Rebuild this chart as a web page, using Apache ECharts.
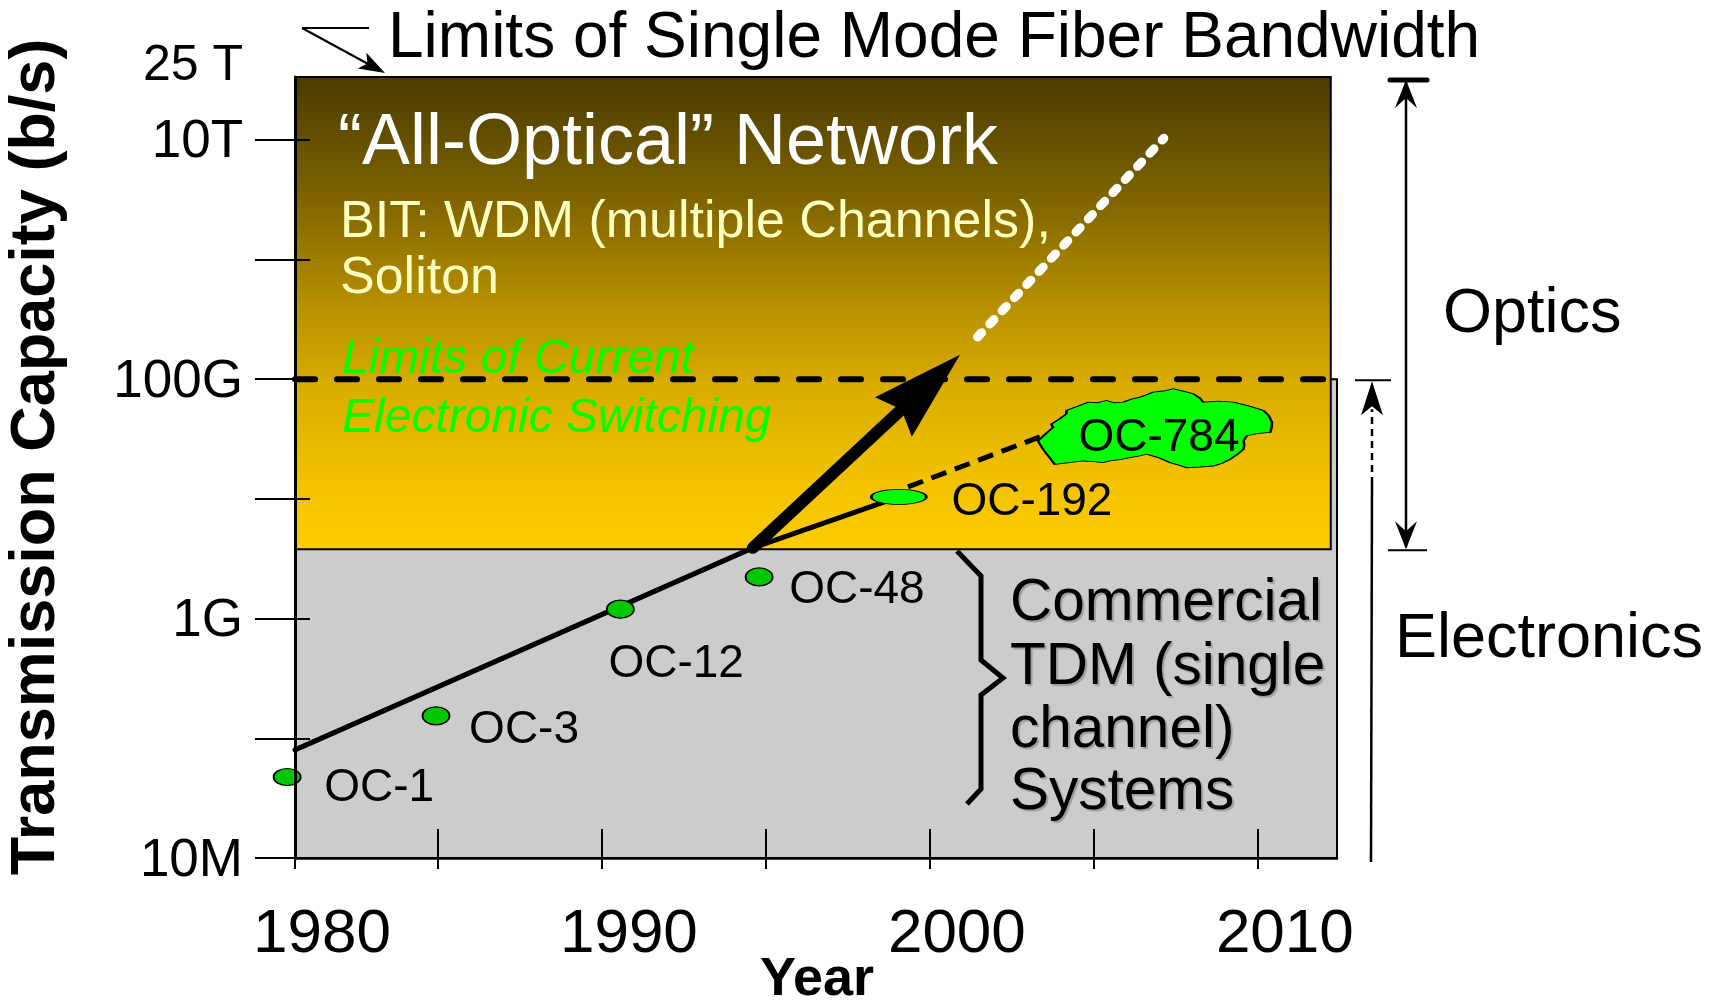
<!DOCTYPE html>
<html><head><meta charset="utf-8">
<script src="https://cdn.jsdelivr.net/npm/echarts@6/dist/echarts.min.js"></script>
<style>html,body{margin:0;padding:0;background:#fff;}#c{width:1720px;height:1001px;}</style>
</head><body><div id="c"></div>
<script>
// ---------------- data ----------------
const yearTickValues = [1985, 1990, 1995, 2000, 2005, 2010];
const yearLabelValues = [1980, 1990, 2000, 2010];
const capTickValues = [1e7, 1e8, 1e9, 1e10, 1e11, 1e12, 1e13];
const capLabelValues = [1e7, 1e9, 1e11, 1e13, 2.5e13];
const capLabelTexts = ['10M', '1G', '100G', '10T', '25 T'];
const ocNames = ['OC-1', 'OC-3', 'OC-12', 'OC-48', 'OC-192'];
const ocYears = [1980.4, 1984.94, 1990.56, 1994.79, 1999.05];
const ocRates = [4.75e7, 1.54e8, 1.2e9, 2.23e9, 1.04e10];
const oc784Name = 'OC-784';
const oc784Year = 2006.86;
const oc784Rate = 3.9e10;
const tdmTrendYears = [1980.64, 1994.6, 1999.05];
const tdmTrendRates = [8.0e7, 3.9e9, 1.04e10];
const oc784TrendYears = [1999.33, 2003.35];
const oc784TrendRates = [1.26e10, 3.3e10];
const wdmArrowYears = [1994.6, 1999.9];
const wdmArrowRates = [3.9e9, 8.8e10];
const allOpticalYears = [2001.45, 2007.13];
const allOpticalRates = [2.25e11, 1.03e13];
const electronicLimit = 1e11;
const opticsFloor = 3.8e9;
const capMin = 1e7, capMax = 3.35e13;
const yearMin = 1980.64, yearMax = 2012.41, opticsYearMax = 2012.22;

// ---------------- styles / layout ----------------
const FF = "'Liberation Sans', Arial, Helvetica, sans-serif";
const ocSizes = [[27, 17], [27, 18], [27, 18], [27, 18], [55, 15]];
const ocFills = ['#00c800', '#00c800', '#00c800', '#00c800', '#00ff00'];
const ocLabelOffsets = [[38, 12], [34, 15], [-11, 56], [31, 14], [54, 6]];
const labelShift = 0.82;
const ellipsePath = 'path://M0,-1 C0.5523,-1 1,-0.5523 1,0 C1,0.5523 0.5523,1 0,1 C-0.5523,1 -1,0.5523 -1,0 C-1,-0.5523 -0.5523,-1 0,-1 Z';
const cloudPath = 'path://M115,240 L135,222 L160,200 L155,190 L178,176 L200,160 L200,150 L232,138 L265,125 L292,127 L320,120 L345,127 L370,125 L395,116 L420,110 L440,103 L460,95 L490,92 L520,85 L552,93 L580,100 L598,112 L610,125 L655,122 L700,125 L745,136 L790,150 L806,166 L815,185 L814,200 L810,215 L775,218 L740,225 L735,232 L730,240 L732,252 L730,265 L712,280 L690,295 L668,306 L640,315 L600,318 L560,320 L535,312 L510,305 L475,290 L440,280 L415,286 L390,290 L360,296 L330,300 L310,305 L280,302 L250,300 L208,305 L165,310 L157,300 L150,290 L140,278 L130,265 L122,252 Z';
const arrowHeadPath = 'path://M0,0 L27,91 L0,80 L-27,91 Z';

const pairs = (xs, ys) => xs.map((x, i) => [x, ys[i]]);

const goldGradient = new echarts.graphic.LinearGradient(0, 0, 0, 1, [
  {offset: 0, color: '#4a3b00'},
  {offset: 0.25, color: '#7c6200'},
  {offset: 0.47, color: '#b48e00'},
  {offset: 0.65, color: '#d8ac00'},
  {offset: 0.85, color: '#f2c200'},
  {offset: 1, color: '#fdcc00'}
]);

function capLabel(v) {
  for (let i = 0; i < capLabelValues.length; i++) {
    if (Math.abs(Math.log10(v) - Math.log10(capLabelValues[i])) < 0.01) {
      return capLabelValues[i] === 2.5e13 ? '{t|' + capLabelTexts[i] + '}' : capLabelTexts[i];
    }
  }
  return '';
}

const chart = echarts.init(document.getElementById('c'), null, {renderer: 'canvas'});

const option = {
  animation: false,
  backgroundColor: '#ffffff',
  grid: {left: 295, right: 383, top: 77, bottom: 143, containLabel: false},
  xAxis: [
    {type: 'value', min: yearMin, max: yearMax, position: 'bottom', z: 10,
     axisLine: {show: true, onZero: false, lineStyle: {color: '#000', width: 2.5}},
     axisTick: {show: true, inside: true, length: 29, customValues: yearTickValues, lineStyle: {color: '#000', width: 2}},
     axisLabel: {show: false}, splitLine: {show: false}},
    {type: 'value', min: yearMin, max: yearMax, position: 'bottom', z: 10,
     axisLine: {show: false, onZero: false},
     axisTick: {show: true, inside: false, length: 11, customValues: [yearMin].concat(yearTickValues), lineStyle: {color: '#000', width: 2}},
     axisLabel: {show: false}, splitLine: {show: false}},
    {type: 'value', min: yearMin - labelShift, max: yearMax - labelShift, position: 'bottom', z: 10,
     axisLine: {show: false, onZero: false}, axisTick: {show: false}, splitLine: {show: false},
     axisLabel: {show: true, customValues: yearLabelValues, margin: 46, fontSize: 62, fontFamily: FF, color: '#000',
       formatter: v => (v === yearLabelValues[0] ? '{a|' + v + '}' : String(v)),
       rich: {a: {fontSize: 62, fontFamily: FF, color: '#000', padding: [0, 0, 0, 42]}}}}
  ],
  yAxis: [
    {type: 'log', logBase: 10, min: capMin, max: capMax, position: 'left', z: 10,
     axisLine: {show: true, onZero: false, lineStyle: {color: '#000', width: 3}},
     axisTick: {show: true, inside: false, length: 40, customValues: capTickValues, lineStyle: {color: '#000', width: 2}},
     minorTick: {show: false}, splitLine: {show: false},
     axisLabel: {show: true, customValues: capLabelValues, margin: 52, fontSize: 53, fontFamily: FF, color: '#000',
       padding: [6, 0, 0, 0],
       formatter: capLabel,
       rich: {t: {fontSize: 50, fontFamily: FF, color: '#000', padding: [0, 0, 58, 0]}}}},
    {type: 'log', logBase: 10, min: capMin, max: capMax, position: 'left', z: 10,
     axisLine: {show: false, onZero: false},
     axisTick: {show: true, inside: true, length: 15, customValues: capTickValues.slice(1), lineStyle: {color: '#000', width: 2}},
     minorTick: {show: false}, splitLine: {show: false}, axisLabel: {show: false}}
  ],
  series: [
    {name: 'electronics', type: 'line', data: [], z: 1, silent: true,
     markArea: {silent: true, z: 1, label: {show: false},
       itemStyle: {color: '#cccccc', borderColor: '#000', borderWidth: 2},
       data: [[{coord: [yearMin, capMin]}, {coord: [yearMax, electronicLimit]}]]}},
    {name: 'optics', type: 'line', data: [], z: 2, silent: true,
     markArea: {silent: true, z: 2, label: {show: false},
       itemStyle: {color: goldGradient, borderColor: '#000', borderWidth: 2},
       data: [[{coord: [yearMin, opticsFloor]}, {coord: [opticsYearMax, capMax]}]]}},
    {name: 'electronic limit', type: 'line', z: 3, silent: true, symbol: 'none',
     data: [[yearMin, electronicLimit], [opticsYearMax - 0.1, electronicLimit]],
     lineStyle: {color: '#000', width: 6, type: [20, 22], cap: 'round'}},
    {name: 'tdm trend', type: 'line', z: 4, silent: true, symbol: 'none',
     data: pairs(tdmTrendYears, tdmTrendRates),
     lineStyle: {color: '#000', width: 5, cap: 'round', join: 'round'}},
    {name: 'oc784 trend', type: 'line', z: 4, silent: true, symbol: 'none',
     data: pairs(oc784TrendYears, oc784TrendRates),
     lineStyle: {color: '#000', width: 5, type: [16, 9]}},
    {name: 'all optical', type: 'line', z: 4, silent: true, symbol: 'none',
     data: pairs(allOpticalYears, allOpticalRates),
     lineStyle: {color: '#ffffff', width: 9, type: [6, 12], cap: 'round'}},
    {name: 'wdm arrow', type: 'line', z: 5, silent: true, data: [],
     markLine: {silent: true, z: 5, symbol: ['none', arrowHeadPath], symbolSize: [54, 91],
       label: {show: false},
       lineStyle: {color: '#000', width: 12, type: 'solid', cap: 'round'},
       itemStyle: {color: '#000'},
       emphasis: {disabled: true},
       data: [[{coord: [wdmArrowYears[0], wdmArrowRates[0]]}, {coord: [wdmArrowYears[1], wdmArrowRates[1]]}]]}},
    {name: 'oc', type: 'scatter', z: 6, silent: true, clip: false, symbol: ellipsePath,
     itemStyle: {borderColor: '#000', borderWidth: 1.5, opacity: 1},
     label: {show: true, formatter: '{b}', fontSize: 46, fontFamily: FF, color: '#000', align: 'left', verticalAlign: 'middle'},
     data: ocNames.map((n, i) => ({
       name: n, value: [ocYears[i], ocRates[i]], symbolSize: ocSizes[i],
       itemStyle: {color: ocFills[i]},
       label: {position: [ocSizes[i][0] / 2 + ocLabelOffsets[i][0], ocSizes[i][1] / 2 + ocLabelOffsets[i][1]]}
     }))},
    {name: 'oc784', type: 'scatter', z: 6, silent: true, clip: false, symbol: cloudPath, symbolSize: [234, 79],
     itemStyle: {color: '#00ff00', borderColor: '#000', borderWidth: 1.5, opacity: 1},
     label: {show: true, position: 'inside', offset: [4, 10], formatter: '{b}', fontSize: 46, fontFamily: FF, color: '#000'},
     data: [{name: oc784Name, value: [oc784Year, oc784Rate]}]}
  ]
};
chart.setOption(option);

// ---------------- annotations ----------------
function txt(text, x, y, size, extra) {
  return {type: 'text', x: x, y: y, z: 100, silent: true,
    style: Object.assign({text: text, fontSize: size, fontFamily: FF, fill: '#000', align: 'left', verticalAlign: 'middle'}, extra || {})};
}
function seg(x1, y1, x2, y2, w, extra) {
  return {type: 'line', z: 100, silent: true, shape: {x1: x1, y1: y1, x2: x2, y2: y2},
    style: Object.assign({stroke: '#000', lineWidth: w}, extra || {})};
}
function poly(points) {
  return {type: 'polygon', z: 100, silent: true, shape: {points: points}, style: {fill: '#000'}};
}
const py = v => chart.convertToPixel({yAxisIndex: 0}, v);
const yTop = py(capMax), yFloor = py(opticsFloor), yElec = py(electronicLimit), yBase = py(capMin);
const ox = 1406, ex = 1372;
const shadow = {textShadowColor: 'rgba(120,120,120,0.55)', textShadowOffsetX: 2, textShadowOffsetY: 2, textShadowBlur: 1};

const yName = txt('Transmission Capacity (b/s)', 37, 457, 63, {fontWeight: 'bold', align: 'center'});
yName.rotation = Math.PI / 2;

const graphics = [
  txt('Limits of Single Mode Fiber Bandwidth', 388, 39, 64),
  txt('\u201CAll-Optical\u201D Network', 338, 144, 72, {fill: '#ffffff'}),
  txt('BIT: WDM (multiple Channels),', 340, 223, 52, {fill: '#ffffc0'}),
  txt('Soliton', 340, 279, 52, {fill: '#ffffc0'}),
  txt('Limits of Current', 342, 360, 48, {fill: '#00ff00', fontStyle: 'italic'}),
  txt('Electronic Switching', 342, 419, 48, {fill: '#00ff00', fontStyle: 'italic'}),
  txt('Commercial', 1010, 604, 58.5, shadow),
  txt('TDM (single', 1010, 668, 58.5, shadow),
  txt('channel)', 1010, 731, 58.5, shadow),
  txt('Systems', 1010, 793, 58.5, shadow),
  txt('Optics', 1443, 315, 63),
  txt('Electronics', 1395, 640, 63),
  yName,
  txt('Year', 817, 980, 54, {fontWeight: 'bold', align: 'center'}),
  // top-left pointer to the fiber limit
  seg(369, 28, 302, 28, 2),
  seg(302, 28, 370, 65, 2),
  poly([[385, 73], [357.8, 68.5], [367.4, 63.5], [366.4, 52.7]]),
  // brace
  {type: 'polyline', z: 100, silent: true,
   shape: {points: [[957, 551], [981, 576], [981, 660], [1003, 678], [981, 695], [981, 789], [967, 804]]},
   style: {stroke: '#000', lineWidth: 5, fill: null, lineJoin: 'miter'}},
  // optics double arrow
  seg(ox, yTop + 4, ox, yFloor - 2, 2.5),
  seg(1390, yTop + 3, 1427, yTop + 3, 5, {lineCap: 'round'}),
  poly([[ox, yTop + 3], [ox + 11, yTop + 31], [ox, yTop + 21], [ox - 11, yTop + 31]]),
  poly([[ox, yFloor], [ox + 11, yFloor - 28], [ox, yFloor - 18], [ox - 11, yFloor - 28]]),
  seg(1388, yFloor + 1, 1427, yFloor + 1, 2),
  // electronics arrow
  seg(ex - 1, yBase + 4, ex, 484, 2.5),
  seg(ex, 484, ex, yElec + 30, 2.5, {lineDash: [7, 5]}),
  poly([[ex, yElec + 2], [ex + 11, yElec + 36], [ex, yElec + 27], [ex - 11, yElec + 36]]),
  seg(1355, yElec + 1, 1391, yElec + 1, 2)
];
chart.setOption({graphic: graphics});
</script>
</body></html>
